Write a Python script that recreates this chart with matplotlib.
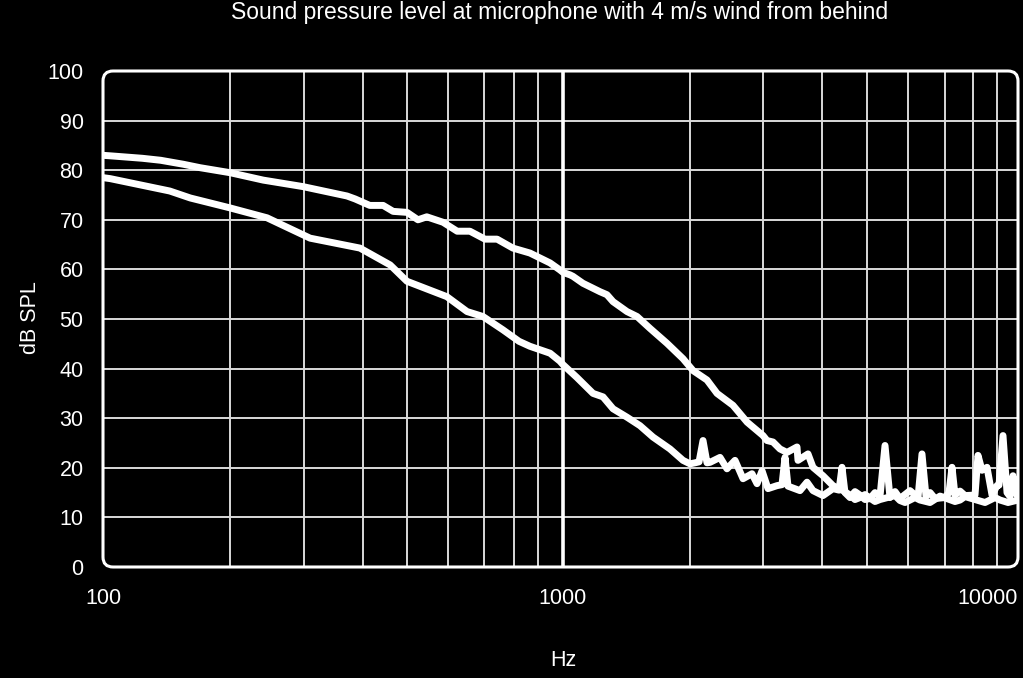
import numpy as np
import matplotlib
matplotlib.use("Agg")
import matplotlib.pyplot as plt
from matplotlib.patches import FancyBboxPatch
from matplotlib.transforms import IdentityTransform
from matplotlib.ticker import FixedLocator, NullLocator

plt.rcParams['font.family'] = ['Liberation Sans', 'DejaVu Sans']

title = "Sound pressure level at microphone with 4 m/s wind from behind"
x_label = "Hz"
y_label = "dB SPL"
x_ticks = [100, 1000, 10000]
x_tick_labels = ["100", "1000", "10000"]
y_ticks = [0, 10, 20, 30, 40, 50, 60, 70, 80, 90, 100]
x_minor = [200, 300, 400, 500, 600, 700, 800, 900,
           2000, 3000, 4000, 5000, 6000, 7000, 8000, 9000]

# Upper curve
freq_a = [100, 104, 124, 137, 155, 170, 200, 240, 298, 370, 385, 414, 443, 466,
          500, 525, 546, 587, 624, 659, 703, 742, 796, 865, 947, 987, 1000,
          1039, 1056, 1115, 1224, 1271, 1314, 1418, 1498, 1608, 1764, 1925,
          2034, 2198, 2324, 2539, 2747, 3000, 3059, 3150, 3259, 3372, 3541,
          3558, 3736, 3828, 4020, 4224, 4440, 4596, 4711, 4828, 4951, 5181,
          5297, 5664, 5790, 5921, 6178, 6308, 6576, 6857, 7342, 7519, 7700,
          8280, 8485, 8913, 9137, 9513, 10000]
spl_a = [83.0, 82.9, 82.4, 82.0, 81.2, 80.5, 79.5, 78.0, 76.7, 74.8, 74.2, 72.9,
         72.9, 71.7, 71.5, 70.0, 70.6, 69.5, 67.7, 67.7, 66.1, 66.1, 64.3, 63.3,
         61.3, 59.9, 59.4, 58.9, 58.6, 57.2, 55.5, 54.9, 53.5, 51.5, 50.5, 48.1,
         45.1, 42.0, 39.6, 37.7, 35.0, 32.6, 29.2, 26.5, 25.5, 25.2, 23.8, 23.1,
         24.2, 21.5, 22.8, 20.1, 18.4, 16.4, 15.4, 14.5, 13.6, 14.0, 14.6, 13.2,
         13.6, 14.4, 13.4, 13.0, 14.0, 13.5, 13.0, 14.3, 13.2, 13.5, 14.2, 13.3,
         13.0, 14.0, 13.5, 13.0, 13.5]

# Lower curve
freq_b = [100, 104, 144, 161, 200, 245, 309, 394, 459, 500, 597, 651, 697, 762,
          820, 865, 947, 987, 1000, 1079, 1178, 1244, 1314, 1418, 1522, 1634,
          1793, 1925, 2000, 2056, 2103, 2150, 2198, 2235, 2363, 2456, 2568,
          2685, 2822, 2902, 2984, 3074, 3212, 3291, 3340, 3389, 3593, 3718,
          3828, 4020, 4224, 4352, 4417, 4483, 4596, 4711, 4828, 4951, 5067,
          5181, 5297, 5417, 5538, 5664, 5790, 6050, 6256, 6360, 6467, 6578,
          6715, 7000, 7135, 7238, 7342, 7520, 7700, 8079, 8198, 8361, 8569,
          8783, 9000, 9091, 9275, 9464, 9607, 9753, 9900, 10000]
spl_b = [78.5, 78.3, 75.8, 74.4, 72.4, 70.4, 66.3, 64.3, 60.9, 57.6, 54.5, 51.5,
         50.5, 47.8, 45.5, 44.5, 43.1, 41.5, 40.8, 38.2, 35.0, 34.3, 31.9, 30.2,
         28.5, 26.2, 23.8, 21.5, 20.8, 21.0, 21.2, 25.5, 21.0, 21.1, 22.1, 19.8,
         21.5, 17.8, 18.8, 16.8, 19.4, 15.8, 16.4, 16.6, 22.1, 16.3, 15.4, 17.1,
         15.4, 14.4, 15.8, 15.5, 20.1, 15.0, 14.0, 15.2, 14.5, 13.6, 13.8, 15.0,
         14.2, 24.5, 14.0, 15.2, 13.8, 15.4, 14.0, 22.8, 14.2, 15.0, 13.8, 14.0,
         15.0, 20.1, 14.5, 15.3, 14.4, 14.5, 22.5, 19.5, 20.1, 14.5, 16.4, 16.5,
         26.5, 15.0, 14.2, 18.4, 15.0, 14.0]

# The chart's frequency axis: where the labelled grid frequencies sit
# (relative units, one decade ~ 460) - it is not a pure log axis.
axis_freqs = [100, 200, 300, 400, 500, 600, 700, 800, 900, 1000,
              2000, 3000, 4000, 5000, 6000, 7000, 8000, 9000, 10000]
axis_pos = [0, 127, 201, 260, 304, 345, 381, 411, 435, 460,
            587, 660, 719, 764, 805, 842, 870, 894, 915]
_lf = np.log10(axis_freqs)


def fwd(x):
    x = np.clip(np.asarray(x, dtype=float), 1e-9, None)
    lx = np.log10(x)
    y = np.interp(lx, _lf, axis_pos)
    lo = lx < _lf[0]
    hi = lx > _lf[-1]
    y = np.where(lo, axis_pos[0] + (lx - _lf[0]) * 460, y)
    y = np.where(hi, axis_pos[-1] + (lx - _lf[-1]) * 460, y)
    return y


def inv(y):
    y = np.asarray(y, dtype=float)
    lx = np.interp(y, axis_pos, _lf)
    lx = np.where(y < axis_pos[0], _lf[0] + (y - axis_pos[0]) / 460, lx)
    lx = np.where(y > axis_pos[-1], _lf[-1] + (y - axis_pos[-1]) / 460, lx)
    return 10 ** lx


W, H, DPI = 1023, 678, 100
fig = plt.figure(figsize=(W / DPI, H / DPI), dpi=DPI, facecolor='black')
left, right, top, bottom = 103, 1018, 71, 567
ax = fig.add_axes([left / W, (H - bottom) / H, (right - left) / W, (bottom - top) / H])
ax.set_facecolor('black')
ax.set_xscale('function', functions=(fwd, inv))
ax.set_xlim(100, 10000)
ax.set_ylim(0, 100)

for s in ax.spines.values():
    s.set_visible(False)

# grid
for yv in y_ticks[1:-1]:
    ax.axhline(yv, color='#d9d9d9', lw=1.4, zorder=1)
for xv in x_minor:
    ax.axvline(xv, color='#d9d9d9', lw=1.4, zorder=1)
ax.axvline(1000, color='white', lw=2.6, zorder=1)

ax.plot(freq_a, spl_a, color='white', lw=5.0, solid_joinstyle='round',
        solid_capstyle='round', zorder=3)
ax.plot(freq_b, spl_b, color='white', lw=5.0, solid_joinstyle='round',
        solid_capstyle='round', zorder=3)

ax.xaxis.set_major_locator(FixedLocator(x_ticks))
ax.xaxis.set_minor_locator(NullLocator())
ax.set_xticklabels(x_tick_labels)
ax.set_yticks(y_ticks)
ax.tick_params(axis='both', length=0, colors='white', labelsize=15.5)
ax.tick_params(axis='x', pad=15)
ax.tick_params(axis='y', pad=14)
lbls = ax.get_xticklabels()
lbls[-1].set_horizontalalignment('right')

fig.text(560 / W, 1 - 12 / H, title, color='white', fontsize=16.5,
         ha='center', va='center')
fig.text(563 / W, 1 - 661 / H, x_label, color='white', fontsize=15.5,
         ha='center', va='center')
fig.text(30 / W, 1 - 318 / H, y_label, color='white', fontsize=15.5,
         ha='center', va='center', rotation=90)

# rounded white frame
bb = ax.get_window_extent()
frame = FancyBboxPatch((bb.x0, bb.y0), bb.width, bb.height,
                       boxstyle="round,pad=0,rounding_size=10",
                       transform=IdentityTransform(), fill=False,
                       ec='white', lw=2.2, zorder=5)
fig.add_artist(frame)

fig.savefig("out.png", dpi=DPI, facecolor='black')
